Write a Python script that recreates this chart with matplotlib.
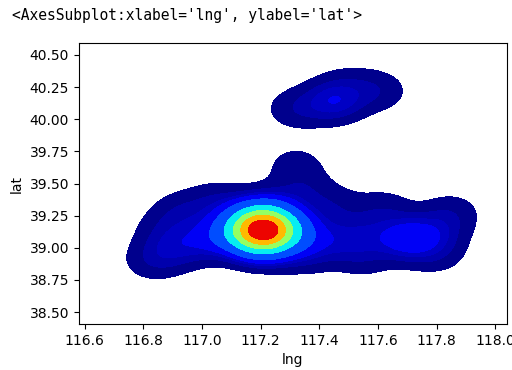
import numpy as np
import matplotlib
matplotlib.use("Agg")
import matplotlib.pyplot as plt

# point locations (lng, lat) and their weights
lng = [117.21, 117.10, 117.32, 117.20, 117.18,
       117.00, 116.90, 116.83, 116.93, 117.05, 116.87,
       117.25, 117.32, 117.35, 117.45,
       117.35, 117.45, 117.55, 117.55,
       117.70, 117.80, 117.85, 117.62, 117.80,
       117.45, 117.32, 117.60, 117.50]
lat = [39.14, 39.12, 39.12, 39.02, 39.25,
       39.05, 38.98, 38.90, 39.28, 39.36, 39.13,
       39.32, 39.64, 39.45, 39.32,
       38.95, 39.05, 39.10, 38.92,
       39.07, 39.12, 39.27, 39.30, 38.95,
       40.14, 40.08, 40.22, 40.28]
wt = [24, 3, 3, 2, 2,
      1.5, 1.1, 0.9, 1.0, 1.0, 0.8,
      1.0, 0.8, 0.8, 0.9,
      1.0, 1.2, 1.2, 0.8,
      3.0, 1.2, 0.9, 0.9, 0.8,
      2.2, 1.0, 1.0, 0.5]

# gaussian kernel density on a grid
bw_x, bw_y = 0.07, 0.11
gx = np.linspace(116.4, 118.2, 300)
gy = np.linspace(38.2, 40.8, 300)
xx, yy = np.meshgrid(gx, gy)
z = np.zeros_like(xx)
for px, py, w in zip(lng, lat, wt):
    z += w * np.exp(-0.5 * (((xx - px) / bw_x) ** 2 + ((yy - py) / bw_y) ** 2))

# iso-proportion levels, the way seaborn's kdeplot picks them
iso = np.linspace(0.05, 1, 10)
vals = np.sort(z.ravel())[::-1]
cum = np.cumsum(vals) / vals.sum()
levels = np.take(vals, np.searchsorted(cum, 1 - iso), mode="clip")
levels = np.unique(levels)

fig = plt.figure(figsize=(5.12, 3.70), dpi=100)
ax = fig.add_axes([0.154, 0.124, 0.836, 0.76])
ax.contourf(xx, yy, z, levels=levels, cmap="jet")

ax.set_xlim(116.58, 118.04)
ax.set_ylim(38.407, 40.593)
ax.set_xticks(np.arange(116.6, 118.01, 0.2))
ax.set_yticks(np.arange(38.5, 40.51, 0.25))
ax.set_yticklabels(["%.2f" % v for v in np.arange(38.5, 40.51, 0.25)])
ax.set_xlabel("lng")
ax.set_ylabel("lat")

fig.text(0.023, 0.958, "<AxesSubplot:xlabel='lng', ylabel='lat'>",
         family="DejaVu Sans Mono", fontsize=10.5, va="center")

fig.savefig("out.png", dpi=100)
